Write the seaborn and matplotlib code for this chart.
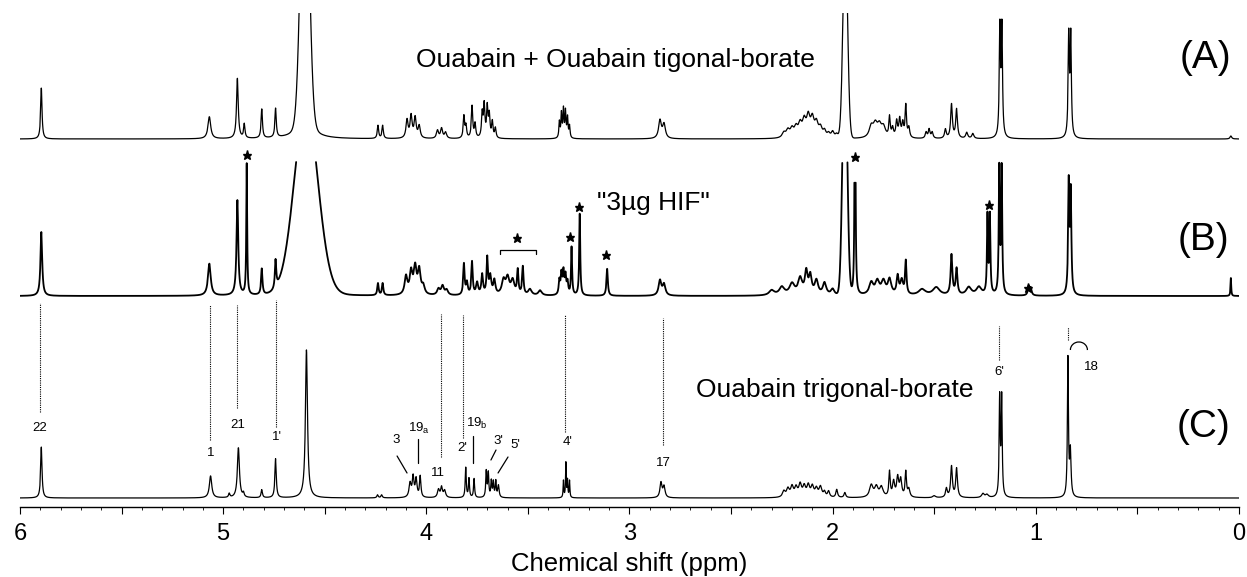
import numpy as np
import pandas as pd
import matplotlib
matplotlib.use("Agg")
import matplotlib.pyplot as plt
from matplotlib.patches import Arc
from matplotlib.ticker import MultipleLocator
import seaborn as sns

# ---------------- data (peak lists) ----------------
# Spectrum (A): Ouabain + Ouabain tigonal-borate
A_ppm = [5.895, 5.068, 4.930, 4.896, 4.810, 4.742, 4.598, 4.238, 4.215,
         4.095, 4.075, 4.055, 4.035, 3.945, 3.925, 3.905,
         3.815, 3.805, 3.775, 3.760, 3.725, 3.715, 3.700, 3.690, 3.675, 3.660,
         3.345, 3.335, 3.325, 3.315, 3.305, 3.295, 2.850, 2.830,
         2.240, 2.220, 2.200, 2.180, 2.160, 2.140, 2.120, 2.100, 2.080, 2.060,
         2.040, 2.020, 2.000, 1.980,
         1.810, 1.790, 1.770, 1.750, 1.720, 1.705, 1.685, 1.670, 1.655, 1.640, 1.625,
         1.540, 1.525, 1.510, 1.445, 1.415, 1.390, 1.340, 1.310,
         1.177, 1.167, 0.838, 0.828, 0.040]
A_h = [51, 22, 60, 14, 29, 29, 25, 13, 13,
       18, 22, 20, 12, 8, 10, 6,
       22, 12, 32, 14, 24, 32, 30, 22, 16, 10,
       16, 24, 28, 26, 20, 12, 18, 14,
       5, 7, 8, 9, 12, 15, 19, 17, 13, 9,
       6, 4, 6, 4,
       11, 12, 11, 10, 20, 9, 16, 18, 14, 32, 10,
       6, 9, 6, 9, 34, 29, 6, 5,
       108, 108, 100, 100, 3]
A_w = [0.004, 0.008, 0.005, 0.004, 0.004, 0.004, 0.04, 0.004, 0.004,
       0.006, 0.006, 0.006, 0.006, 0.006, 0.006, 0.006,
       0.004, 0.004, 0.004, 0.004, 0.004, 0.004, 0.004, 0.004, 0.004, 0.004,
       0.003, 0.003, 0.003, 0.003, 0.003, 0.003, 0.008, 0.008,
       0.01, 0.01, 0.01, 0.01, 0.01, 0.01, 0.01, 0.01, 0.01, 0.01,
       0.008, 0.008, 0.008, 0.008,
       0.012, 0.012, 0.012, 0.012, 0.004, 0.005, 0.005, 0.005, 0.005, 0.004, 0.005,
       0.005, 0.005, 0.005, 0.005, 0.005, 0.005, 0.006, 0.006,
       0.0035, 0.0035, 0.0035, 0.0035, 0.005]
A_band_ppm = [4.598, 1.938]
A_band_h = [300, 202]
A_band_s = [0.020, 0.0113]

# Spectrum (B): "3ug HIF"
B_ppm = [5.895, 5.068, 4.930, 4.884, 4.810, 4.742, 4.592, 4.238, 4.215,
         4.100, 4.075, 4.055, 4.035, 4.015, 3.940, 3.920, 3.900,
         3.815, 3.800, 3.775, 3.750, 3.725, 3.700, 3.685, 3.665,
         3.620, 3.600, 3.575, 3.550, 3.525, 3.490, 3.440,
         3.345, 3.335, 3.325, 3.315, 3.305, 3.285, 3.245, 3.110,
         2.850, 2.830,
         2.300, 2.250, 2.200, 2.160, 2.130, 2.110, 2.080, 2.040, 2.000,
         1.890,
         1.810, 1.780, 1.750, 1.720, 1.680, 1.660, 1.640,
         1.560, 1.490, 1.415, 1.390, 1.330, 1.280,
         1.238, 1.226, 1.180, 1.168, 1.035, 1.025,
         0.838, 0.828, 0.040]
B_h = [64, 32, 95, 131, 26, 28, 20, 12, 12,
       18, 22, 26, 24, 8, 6, 9, 5,
       31, 12, 33, 12, 20, 36, 18, 14,
       14, 16, 14, 24, 28, 6, 5,
       14, 20, 22, 18, 12, 48, 82, 27,
       15, 11,
       5, 8, 11, 16, 22, 18, 14, 12, 6,
       400,
       12, 13, 13, 15, 18, 14, 33,
       6, 8, 40, 26, 8, 8,
       78, 78, 125, 125, 9, 7,
       110, 100, 18]
B_w = [0.005, 0.008, 0.005, 0.0025, 0.004, 0.004, 0.05, 0.004, 0.004,
       0.008, 0.008, 0.008, 0.008, 0.008, 0.008, 0.008, 0.008,
       0.004, 0.005, 0.004, 0.006, 0.005, 0.004, 0.006, 0.006,
       0.01, 0.01, 0.01, 0.004, 0.004, 0.01, 0.01,
       0.004, 0.004, 0.004, 0.004, 0.004, 0.003, 0.003, 0.004,
       0.008, 0.008,
       0.015, 0.015, 0.015, 0.012, 0.008, 0.008, 0.01, 0.01, 0.01,
       0.002,
       0.012, 0.012, 0.012, 0.01, 0.006, 0.008, 0.004,
       0.02, 0.02, 0.005, 0.005, 0.015, 0.015,
       0.003, 0.003, 0.003, 0.003, 0.005, 0.005,
       0.0035, 0.0035, 0.002]
B_band_ppm = [4.592, 1.940]
B_band_h = [174, 250]
B_band_s = [0.059, 0.0113]

# Spectrum (C): Ouabain trigonal-borate
C_ppm = [5.895, 5.062, 4.970, 4.925, 4.900, 4.810, 4.742, 4.590, 4.240, 4.220,
         4.080, 4.065, 4.050, 4.030, 3.940, 3.925, 3.910,
         3.806, 3.790, 3.765, 3.705, 3.695, 3.680, 3.670, 3.658, 3.645,
         3.325, 3.313, 3.305, 3.295, 2.845, 2.830,
         2.240, 2.220, 2.200, 2.180, 2.160, 2.140, 2.120, 2.100, 2.080, 2.060,
         2.040, 2.020, 1.980, 1.940,
         1.810, 1.785, 1.760, 1.720, 1.700, 1.680, 1.665, 1.640, 1.625,
         1.500, 1.440, 1.415, 1.390, 1.260, 1.240,
         1.178, 1.168, 0.842, 0.830]
C_h = [51, 22, 4, 50, 4, 8, 39, 148, 3, 3,
       14, 20, 18, 21, 8, 10, 7,
       30, 19, 19, 26, 24, 16, 15, 16, 12,
       17, 35, 17, 17, 15, 11,
       6, 8, 10, 9, 12, 10, 11, 10, 8, 10,
       5, 6, 8, 5,
       12, 10, 10, 25, 15, 19, 17, 25, 8,
       2, 9, 31, 29, 4, 3,
       98, 98, 138, 45]
C_w = [0.004, 0.007, 0.004, 0.006, 0.004, 0.004, 0.004, 0.006, 0.004, 0.004,
       0.006, 0.005, 0.005, 0.004, 0.006, 0.005, 0.006,
       0.003, 0.003, 0.003, 0.003, 0.003, 0.003, 0.003, 0.003, 0.004,
       0.002, 0.002, 0.002, 0.002, 0.006, 0.006,
       0.008, 0.008, 0.008, 0.008, 0.008, 0.008, 0.008, 0.008, 0.008, 0.008,
       0.006, 0.006, 0.005, 0.005,
       0.01, 0.01, 0.01, 0.004, 0.006, 0.006, 0.006, 0.004, 0.006,
       0.008, 0.005, 0.005, 0.005, 0.008, 0.008,
       0.003, 0.003, 0.003, 0.004]
C_band_ppm = []
C_band_h = []
C_band_s = []

# assignments on spectrum (C)
lab_text = ["22", "1", "21", "1'", "3", r"19$_\mathregular{a}$", "11", "2'",
            r"19$_\mathregular{b}$", "3'", "5'", "4'", "17", "6'", "18"]
lab_ppm = [5.902, 5.060, 4.927, 4.735, 4.149, 4.036, 3.943, 3.825,
           3.751, 3.647, 3.564, 3.303, 2.835, 1.181, 0.729]
lab_h = [78.7, 53.7, 81.7, 69.7, 66.7, 78.7, 33.7, 58.7,
         83.7, 65.7, 61.7, 64.7, 43.7, 134.7, 139.7]

# dotted correlation lines between (B) and (C): ppm, top, bottom
link_ppm = [5.902, 5.065, 4.932, 4.740, 3.928, 3.820, 3.318, 2.835, 1.181, 0.842]
link_top = [203.7, 201.7, 201.7, 206.7, 192.7, 191.7, 191.7, 188.7, 180.7, 179.7]
link_bot = [94.7, 66.7, 98.7, 79.7, 49.7, 68.7, 74.7, 61.7, 146.7, 166.7]

# impurity stars on (B)
star_ppm = [4.884, 3.554, 3.293, 3.249, 3.116, 1.890, 1.231, 1.039]
star_h = [351.7, 268.7, 269.7, 299.7, 251.7, 349.7, 301.7, 218.7]

# ---------------- build curves ----------------
x = np.linspace(0.0, 6.0, 15001)


def spectrum(ppm, h, w, bppm, bh, bs):
    y = np.zeros_like(x)
    for p, a, g in zip(ppm, h, w):
        y += a * g ** 2 / ((x - p) ** 2 + g ** 2)
    for p, a, s in zip(bppm, bh, bs):
        y += a * np.exp(-(x - p) ** 2 / (2 * s ** 2))
    return y


base_A, base_B, base_C = 367.7, 210.7, 8.7
yA = base_A + spectrum(A_ppm, A_h, A_w, A_band_ppm, A_band_h, A_band_s)
yB_rel = spectrum(B_ppm, B_h, B_w, B_band_ppm, B_band_h, B_band_s)
yC = base_C + spectrum(C_ppm, C_h, C_w, C_band_ppm, C_band_h, C_band_s)

capB = 134
maskB = yB_rel <= capB
segB = np.cumsum(np.r_[0, np.diff(maskB.astype(int)) != 0])
dfB = pd.DataFrame({"ppm": x[maskB], "y": base_B + yB_rel[maskB], "seg": segB[maskB]})
dfA = pd.DataFrame({"ppm": x, "y": yA})
dfC = pd.DataFrame({"ppm": x, "y": yC})

# ---------------- figure ----------------
sns.set_theme(style="ticks")
plt.rcParams["font.family"] = ["Liberation Sans", "DejaVu Sans"]
plt.rcParams["mathtext.fontset"] = "custom"
plt.rcParams["mathtext.rm"] = "Liberation Sans"
plt.rcParams["text.color"] = "black"
plt.rcParams["axes.labelcolor"] = "black"
plt.rcParams["xtick.color"] = "black"
plt.rcParams["axes.edgecolor"] = "black"

fig = plt.figure(figsize=(12.47, 5.77), dpi=100)
ax = fig.add_axes([20 / 1247, (577 - 506.7) / 577, 1219 / 1247, 493.7 / 577])

sns.lineplot(data=dfA, x="ppm", y="y", color="black", lw=0.9, ax=ax,
             estimator=None, legend=False)
sns.lineplot(data=dfB, x="ppm", y="y", units="seg", color="black", lw=1.3, ax=ax,
             estimator=None, legend=False)
sns.lineplot(data=dfC, x="ppm", y="y", color="black", lw=0.9, ax=ax,
             estimator=None, legend=False)

ax.set_xlim(6, 0)
ax.set_ylim(0, 493.7)

for sp in ["left", "right", "top"]:
    ax.spines[sp].set_visible(False)
ax.spines["bottom"].set_linewidth(1.0)
ax.spines["bottom"].set_color("black")
ax.set_yticks([])
ax.set_ylabel("")
ticks = np.arange(0, 6.01, 0.5)
ax.set_xticks(ticks)
ax.set_xticklabels([str(int(t)) if abs(t - round(t)) < 1e-6 else "" for t in ticks])
ax.xaxis.set_minor_locator(MultipleLocator(0.1))
ax.tick_params(axis="x", which="major", direction="out", length=5, width=0.8,
               labelsize=17, pad=7, colors="black", labelcolor="black")
ax.tick_params(axis="x", which="minor", direction="out", length=2.5, width=0.6,
               colors="black")
ax.set_xlabel("Chemical shift (ppm)", fontsize=18.5, labelpad=5, color="black")

# titles / panel letters
ax.text(3.071, 446.7, "Ouabain + Ouabain tigonal-borate", fontsize=19,
        ha="center", va="center", color="black")
ax.text(0.163, 448.7, "(A)", fontsize=28, ha="center", va="center", color="black")
ax.text(2.884, 303.7, "\"3\u00b5g HIF\"", fontsize=19, ha="center", va="center",
        color="black")
ax.text(0.177, 266.7, "(B)", fontsize=28, ha="center", va="center", color="black")
ax.text(1.989, 116.7, "Ouabain trigonal-borate", fontsize=19, ha="center",
        va="center", color="black")
ax.text(0.177, 79.7, "(C)", fontsize=28, ha="center", va="center", color="black")

# assignment labels
for t, p, h in zip(lab_text, lab_ppm, lab_h):
    ax.text(p, h, t, fontsize=9.5, ha="center", va="center", color="black")

# leader lines
leaders = [((4.144, 50.7), (4.095, 33.7)),
           ((4.041, 67.7), (4.041, 43.7)),
           ((3.770, 70.7), (3.770, 43.7)),
           ((3.657, 56.7), (3.682, 46.7)),
           ((3.598, 49.7), (3.647, 33.7))]
for (x1, y1), (x2, y2) in leaders:
    ax.plot([x1, x2], [y1, y2], color="black", lw=0.9)

# arc for label 18
ax.add_patch(Arc((0.788, 156.7), 17 / 203.17, 16, theta1=15, theta2=235,
                 color="black", lw=0.9))

# dotted links
for p, t, b in zip(link_ppm, link_top, link_bot):
    ax.plot([p, p], [b, t], color="black", lw=0.8, ls=(0, (1, 1)))

# stars
ax.plot(star_ppm, star_h, ls="none", marker="*", color="black", markersize=6.5)

# bracket over 3.6-3.45 region
ax.plot([3.637, 3.637, 3.460, 3.460], [252.7, 256.7, 256.7, 252.7], color="black", lw=0.9)

fig.savefig("out.png", dpi=100, facecolor="white")
